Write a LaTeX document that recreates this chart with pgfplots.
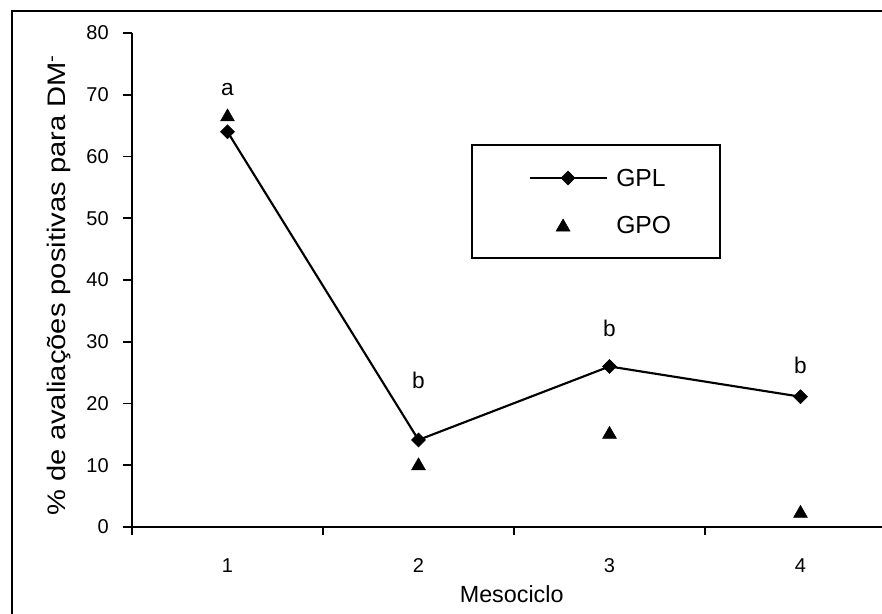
\documentclass[border=0pt]{standalone}
\usepackage{pgfplots}
\pgfplotsset{compat=1.18}
\usepackage{fontspec}
\setmainfont{Liberation Sans}
\usepackage{graphicx}
\begin{document}
\begin{tikzpicture}
\useasboundingbox (-99pt,-65.25pt) rectangle (562.5pt,395.25pt);
\clip (-99pt,-65.25pt) rectangle (562.5pt,395.25pt);
\draw[line width=1.6pt] (-90pt,-80pt) -- (-90pt,387pt) -- (580pt,387pt);
\begin{axis}[
  at={(0pt,0pt)}, anchor=south west,
  scale only axis, width=573pt, height=370.5pt,
  xmin=0.5, xmax=4.5, ymin=0, ymax=80,
  axis lines=left, axis line style={-, line width=1.6pt},
  xtick={1,2,3,4}, minor xtick={0.5,1.5,2.5,3.5,4.5},
  ytick={0,10,...,80},
  tick align=outside,
  major tick length=6.75pt, minor tick length=6pt,
  tick style={black, line width=1.4pt},
  major x tick style={draw=none},
  /pgf/number format/assume math mode=true,
  yticklabel={\mbox{\fontsize{15}{17}\selectfont\pgfmathprintnumber{\tick}}},
  xticklabel={\mbox{\fontsize{15}{17}\selectfont\pgfmathprintnumber{\tick}}},
  yticklabel style={font=\fontsize{15}{17}\selectfont, inner sep=0pt, xshift=-10.5pt},
  xticklabel style={font=\fontsize{15}{17}\selectfont, inner sep=0pt, yshift=-16.5pt},
  xlabel={Mesociclo},
  xlabel style={font=\fontsize{17.5}{20}\selectfont, at={([yshift=-50.6pt]axis description cs:0.497,0)}, anchor=center},
  ylabel={\scalebox{1.15}[1]{\% de avaliações positivas para DM\textsuperscript{-}}},
  ylabel style={font=\fontsize{19}{22}\selectfont, at={([xshift=-54.75pt]axis description cs:0,0.49)}, anchor=center},
  clip=false,
]
% legend box
\draw[line width=1.2pt, fill=white] (axis cs:2.280,61.86) rectangle (axis cs:3.579,43.56);
% data
\addplot[black, line width=1.6pt, mark=square*, mark size=3.7pt,
  mark options={solid, rotate=45, fill=black, line width=0.4pt}]
  coordinates {(1,64.0) (2,14.1) (3,26.0) (4,21.1)};
\addplot[black, only marks, mark=triangle*, mark size=6pt,
  mark options={fill=black, line width=0.4pt}]
  coordinates {(1,66.4) (2,9.9) (3,15.0) (4,2.2)};
% legend samples
\addplot[black, line width=1.6pt, mark=square*, mark size=3.7pt, mark indices={2},
  mark options={solid, rotate=45, fill=black, line width=0.4pt}, forget plot]
  coordinates {(2.584,56.52) (2.783,56.52) (2.987,56.52)};
\addplot[black, only marks, mark=triangle*, mark size=6pt,
  mark options={fill=black, line width=0.4pt}, forget plot]
  coordinates {(2.757,48.58)};
\node[anchor=west, inner sep=0pt, font=\fontsize{18.5}{20}\selectfont] at (axis cs:3.034,56.52) {GPL};
\node[anchor=west, inner sep=0pt, font=\fontsize{18.5}{20}\selectfont] at (axis cs:3.034,48.91) {GPO};
% significance letters
\node[font=\fontsize{17}{19}\selectfont] at (axis cs:1,70.8) {a};
\node[font=\fontsize{17}{19}\selectfont] at (axis cs:2,23.8) {b};
\node[font=\fontsize{17}{19}\selectfont] at (axis cs:3,32.2) {b};
\node[font=\fontsize{17}{19}\selectfont] at (axis cs:4,26.1) {b};
\end{axis}
\end{tikzpicture}
\end{document}
